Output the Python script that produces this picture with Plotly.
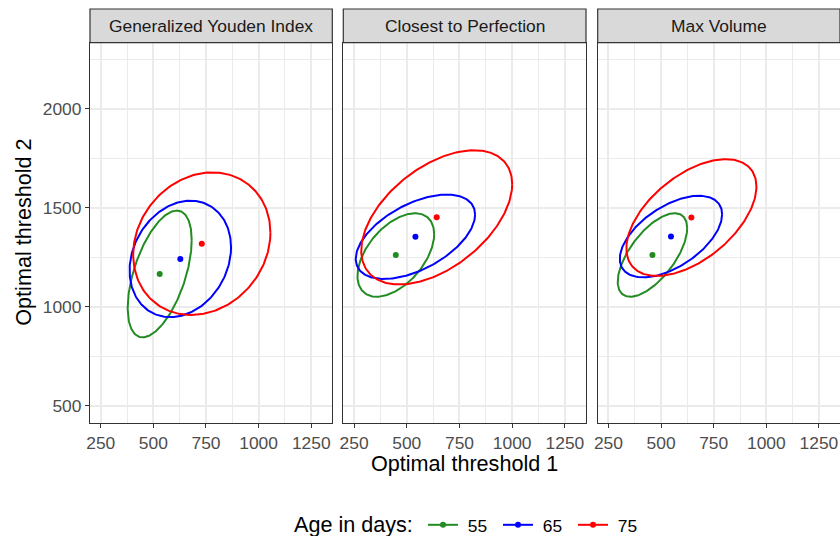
import numpy as np
import plotly.graph_objects as go

# ---------------- data ----------------
methods = ["Generalized Youden Index", "Closest to Perfection", "Max Volume"]
ages = ["55", "65", "75"]
age_colors = ["#228B22", "#0000FF", "#FF0000"]

# centre of each confidence region (optimal thresholds), per method, per age
center_x_gyi = [530, 628, 730]
center_y_gyi = [1165, 1241, 1318]
center_x_ctp = [448, 541, 642]
center_y_ctp = [1261, 1353, 1451]
center_x_mv = [459, 547, 644]
center_y_mv = [1261, 1354, 1450]

# half-extent of each ellipse along threshold 1 / threshold 2 and correlation
half_x_gyi = [152, 241, 326]
half_y_gyi = [320, 294, 360]
rho_gyi = [0.535, 0.20, 0.155]
half_x_ctp = [182, 283, 358]
half_y_ctp = [211, 213, 339]
rho_ctp = [0.50, 0.525, 0.495]
half_x_mv = [165, 243, 309]
half_y_mv = [211, 206, 295]
rho_mv = [0.64, 0.545, 0.53]

x_ticks = [250, 500, 750, 1000, 1250]
y_ticks = [500, 1000, 1500, 2000]
x_range = [199, 1350]
y_range = [414, 2333]

panels = [
    (center_x_gyi, center_y_gyi, half_x_gyi, half_y_gyi, rho_gyi),
    (center_x_ctp, center_y_ctp, half_x_ctp, half_y_ctp, rho_ctp),
    (center_x_mv, center_y_mv, half_x_mv, half_y_mv, rho_mv),
]

# ---------------- layout geometry (pixels) ----------------
W, H = 840, 536
panel_px = [(90, 332.3), (343.3, 586), (597.7, 840)]
top_px, bot_px = 42.7, 422.7
strip_top_px = 9
FONT = "Liberation Sans, Arial, sans-serif"

def px_x(v):
    return v / W

def px_y(v):
    return 1 - v / H

fig = go.Figure()
t = np.linspace(0, 2 * np.pi, 241)

for i, (cx, cy, hx, hy, rr) in enumerate(panels):
    xa = "x" if i == 0 else f"x{i+1}"
    ya = "y" if i == 0 else f"y{i+1}"
    for j in range(3):
        phi = np.arccos(rr[j])
        ex = cx[j] + hx[j] * np.cos(t)
        ey = cy[j] + hy[j] * np.cos(t - phi)
        fig.add_trace(go.Scatter(x=ex, y=ey, mode="lines", xaxis=xa, yaxis=ya,
                                 line=dict(color=age_colors[j], width=2),
                                 showlegend=False, hoverinfo="skip"))
        fig.add_trace(go.Scatter(x=[cx[j]], y=[cy[j]], mode="markers", xaxis=xa, yaxis=ya,
                                 marker=dict(color=age_colors[j], size=6),
                                 showlegend=False))

# legend entries
for j in range(3):
    fig.add_trace(go.Scatter(x=[None], y=[None], mode="lines+markers",
                             name="\u00a0" + ages[j],
                             line=dict(color=age_colors[j], width=2),
                             marker=dict(color=age_colors[j], size=6),
                             showlegend=True))

axis_common = dict(
    showgrid=True, gridcolor="#EBEBEB", gridwidth=1.6,
    zeroline=False, showline=True, linecolor="#333333", linewidth=1.2, mirror=True,
    ticks="outside", ticklen=4, tickwidth=1.2, tickcolor="#333333",
    tickfont=dict(family=FONT, size=17.4, color="#4D4D4D"),
)

layout = dict(
    width=W, height=H,
    margin=dict(l=0, r=0, t=0, b=0, autoexpand=False),
    paper_bgcolor="white", plot_bgcolor="white",
    font=dict(family=FONT, color="black"),
)

shapes = []
annotations = []
for i, (x0, x1) in enumerate(panel_px):
    sx = "" if i == 0 else str(i + 1)
    layout["xaxis" + sx] = dict(
        axis_common, domain=[px_x(x0), px_x(x1)], range=x_range,
        tickvals=x_ticks, anchor="y" + sx,
        minor=dict(dtick=125, tick0=0, showgrid=True, gridcolor="#EBEBEB", gridwidth=0.8, ticks=""),
    )
    layout["yaxis" + sx] = dict(
        axis_common, domain=[px_y(bot_px), px_y(top_px)], range=y_range,
        tickvals=y_ticks, anchor="x" + sx, showticklabels=(i == 0),
        ticks="outside" if i == 0 else "",
        minor=dict(dtick=250, tick0=0, showgrid=True, gridcolor="#EBEBEB", gridwidth=0.8, ticks=""),
    )
    shapes.append(dict(type="rect", xref="paper", yref="paper",
                       x0=px_x(x0), x1=px_x(x1), y0=px_y(top_px), y1=px_y(strip_top_px),
                       fillcolor="#D9D9D9", line=dict(color="#333333", width=1.2), layer="above"))
    annotations.append(dict(text=methods[i], xref="paper", yref="paper",
                            x=px_x((x0 + x1) / 2), y=px_y((top_px + strip_top_px) / 2),
                            xanchor="center", yanchor="middle", showarrow=False,
                            font=dict(size=17.4, color="#1A1A1A")))

annotations.append(dict(text="Optimal threshold 1", xref="paper", yref="paper",
                        x=px_x(464), y=px_y(463), xanchor="center", yanchor="middle",
                        showarrow=False, font=dict(size=21.6, color="black")))
annotations.append(dict(text="Optimal threshold 2", xref="paper", yref="paper",
                        x=px_x(24), y=px_y((top_px + bot_px) / 2), xanchor="center",
                        yanchor="middle", textangle=-90, showarrow=False,
                        font=dict(size=21.6, color="black")))
annotations.append(dict(text="Age in days:", xref="paper", yref="paper",
                        x=px_x(292), y=px_y(524.5), xanchor="left", yanchor="middle",
                        showarrow=False, font=dict(size=21.6, color="black")))

layout["shapes"] = shapes
layout["annotations"] = annotations
layout["legend"] = dict(
    orientation="h", x=px_x(423), xanchor="left", y=px_y(525), yanchor="middle",
    font=dict(size=17.4, color="black"), bgcolor="rgba(0,0,0,0)",
    itemwidth=30, tracegroupgap=0, entrywidth=30, entrywidthmode="pixels",
)

fig.update_layout(**layout)
fig.write_html(
    "out.html",
    config={"displayModeBar": False},
    post_script="document.body.style.margin='0';document.body.style.overflow='hidden';",
)
